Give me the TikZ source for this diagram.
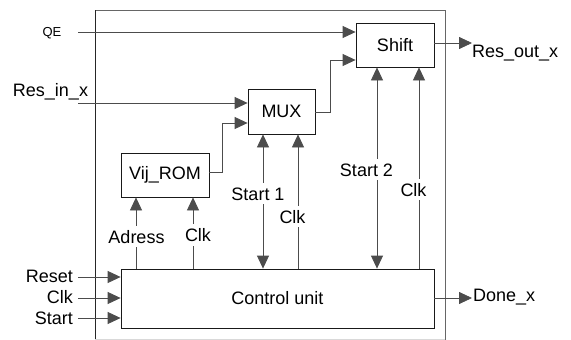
\documentclass[tikz,border=0pt]{standalone}
\usepackage{fontspec}
\setmainfont{Liberation Sans}
\usetikzlibrary{arrows.meta}
\begin{document}
\begin{tikzpicture}[x=1pt,y=-1pt,
  box/.style={draw=black!90, line width=0.8pt, minimum width=#1, inner sep=0pt, font=\fontsize{18}{18}\selectfont},
  conn/.style={draw=black!70, line width=0.8pt, -{Triangle[length=13pt,width=12pt]}},
  biconn/.style={draw=black!70, line width=0.8pt, {Triangle[length=13pt,width=12pt]}-{Triangle[length=13pt,width=12pt]}},
  lbl/.style={font=\fontsize{18}{18}\selectfont, inner sep=0pt, anchor=base},
  lblw/.style={lbl, fill=white, inner ysep=4pt, inner xsep=1pt}
]
\useasboundingbox (0,0) rectangle (571,340);
% outer frame
\draw[draw=black!60, line width=0.8pt] (445,339.5) -- (445,10) -- (95,10);
\draw[draw=black!85, line width=0.8pt] (95,10) -- (95,340);
\draw[draw=black!15, line width=0.6pt] (95,339.5) -- (445,339.5);

% blocks
\node[box=78pt, minimum height=44pt] (shift) at (395,45) {Shift};
\node[box=67pt, minimum height=45pt] (mux) at (281.5,111.5) {MUX};
\node[box=88pt, minimum height=44pt] (rom) at (165,175) {Vij\_ROM};
\node[box=313pt, minimum height=59pt] (ctrl) at (277.5,298.5) {Control unit};

% outside texts
\node[font=\fontsize{13}{13}\selectfont, inner sep=0pt, anchor=base] (qel) at (52,36.5) {QE};
\node[lbl] (resin) at (50.5,96.5) {Res\_in\_x};
\node[lbl, anchor=base east] (reset) at (73,282) {Reset};
\node[lbl, anchor=base east] (clkin) at (73,303) {Clk};
\node[lbl, anchor=base east] (startin) at (73,324) {Start};
\node[lbl, anchor=base west] (resout) at (472,57) {Res\_out\_x};
\node[lbl, anchor=base west] (done) at (473,301) {Done\_x};

\coordinate (qe) at (78,32);
\coordinate (ri) at (78,103);
\coordinate (rs) at (78,277);
\coordinate (ck) at (78,298);
\coordinate (st) at (78,318);
\coordinate (ro) at (472,43);
\coordinate (dn) at (472,298);

\draw[conn] (qe) -- (qe -| shift.west);
\draw[conn] (ri) -- (ri -| mux.west);
\draw[conn] (rs) -- (rs -| ctrl.west);
\draw[conn] (ck) -- (ck -| ctrl.west);
\draw[conn] (st) -- (st -| ctrl.west);
\draw[conn] (shift.east |- ro) -- (ro);
\draw[conn] (ctrl.east |- dn) -- (dn);

% internal data paths
\coordinate (m1) at (330,112);
\coordinate (m2) at (330,60);
\draw[conn] (mux.east |- m1) -- (m1) -- (m2) -- (m2 -| shift.west);
\coordinate (r1) at (222,172);
\coordinate (r2) at (222,123);
\draw[conn] (rom.east |- r1) -- (r1) -- (r2) -- (r2 -| mux.west);

% control signals
\coordinate (a) at (136,0);
\coordinate (b) at (193,0);
\coordinate (s1) at (263,0);
\coordinate (c1) at (298,0);
\coordinate (s2) at (377,0);
\coordinate (c2) at (419,0);
\draw[conn] (ctrl.north -| a) -- (rom.south -| a);
\draw[conn] (ctrl.north -| b) -- (rom.south -| b);
\draw[biconn] (mux.south -| s1) -- (ctrl.north -| s1);
\draw[conn] (ctrl.north -| c1) -- (mux.south -| c1);
\draw[biconn] (shift.south -| s2) -- (ctrl.north -| s2);
\draw[conn] (ctrl.north -| c2) -- (shift.south -| c2);

\node[lblw] (ladr) at (136.5,243) {Adress};
\node[lblw] (lclk1) at (198,241.5) {Clk};
\node[lblw] (ls1) at (258,200) {Start 1};
\node[lblw] (lclk2) at (292.5,223) {Clk};
\node[lblw] (ls2) at (366.5,176) {Start 2};
\node[lblw] (lclk3) at (413.5,196) {Clk};
\end{tikzpicture}
\end{document}
